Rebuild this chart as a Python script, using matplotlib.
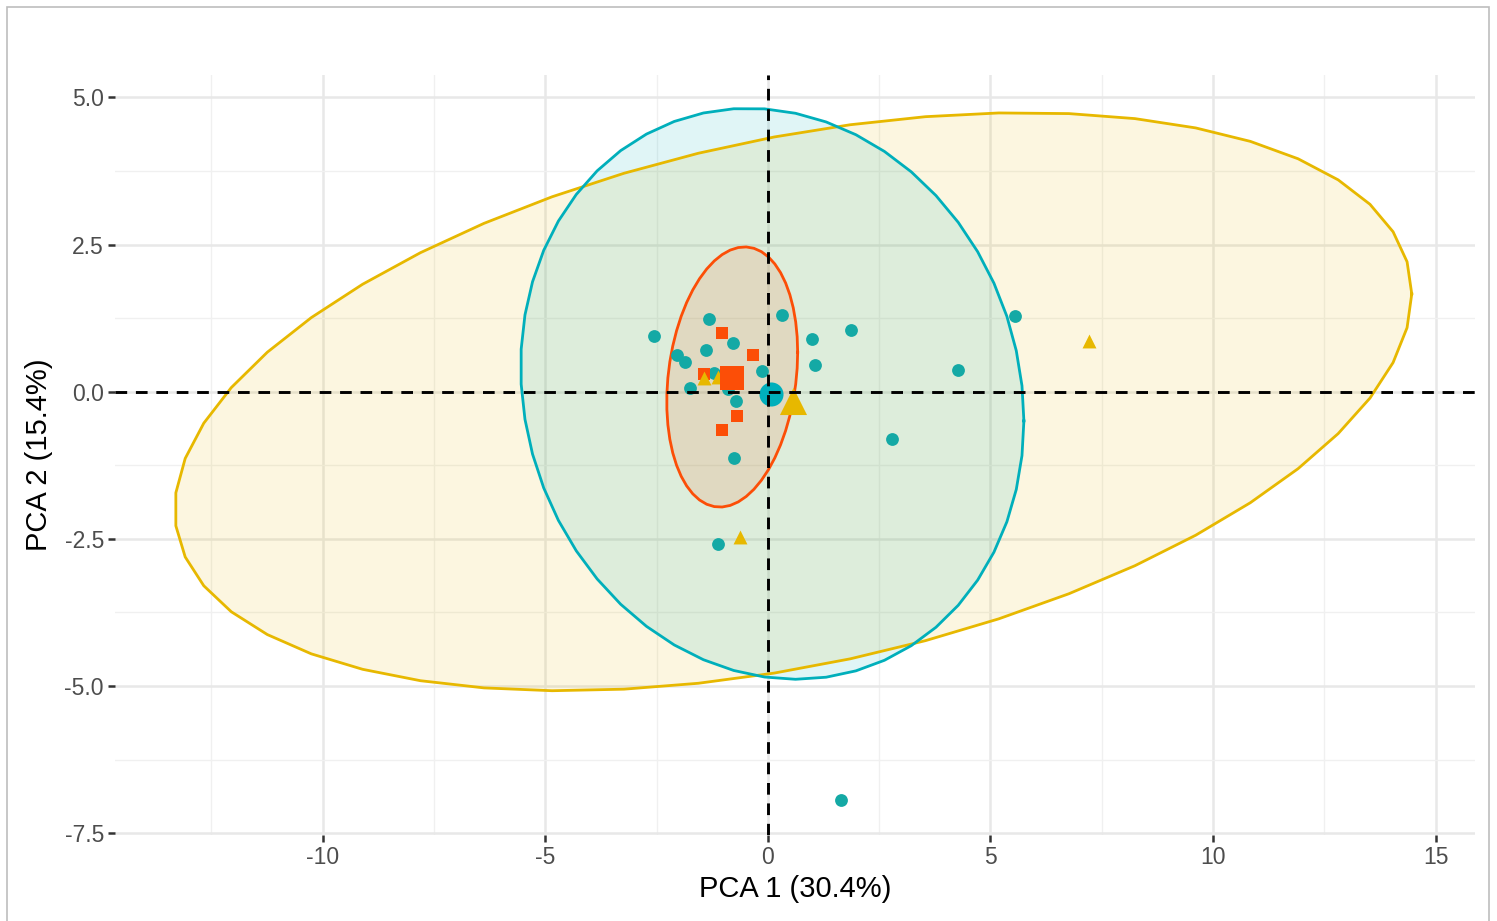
import numpy as np
import matplotlib
matplotlib.use("Agg")
import matplotlib.pyplot as plt
from matplotlib.patches import Rectangle

plt.rcParams['font.family'] = ['Liberation Sans', 'DejaVu Sans']

# ---- data ----
# group colours (factoextra palette)
col_teal = '#00AFBB'
col_teal_pt = '#14A9A5'
col_orange = '#FC4E07'
col_yellow = '#E7B800'

teal_x = [-2.56, -1.32, 0.31, 0.99, 1.07, -0.78, -1.39, -2.03, -1.86, -1.21, -0.13,
          -1.74, -0.89, -0.72, -0.76, -1.12, 1.86, 2.78, 4.27, 5.55, 1.64]
teal_y = [0.95, 1.23, 1.30, 0.89, 0.45, 0.83, 0.71, 0.62, 0.51, 0.31, 0.36,
          0.06, 0.05, -0.15, -1.13, -2.58, 1.05, -0.81, 0.37, 1.29, -6.94]

orange_x = [-1.02, -0.33, -1.44, -0.69, -1.02]
orange_y = [1.00, 0.63, 0.30, -0.42, -0.65]

yellow_x = [7.22, -0.63, -1.44, -1.12]
yellow_y = [0.86, -2.47, 0.24, 0.25]

# group centroids (teal, orange, yellow)
cent_x = [0.08, -0.80, 0.57]
cent_y = [-0.04, 0.24, -0.15]

# confidence ellipses: centre, half ranges, correlation (teal, orange, yellow)
ell_cx = [0.10, -0.80, 0.57]
ell_cy = [-0.035, 0.25, -0.17]
ell_sx = [5.65, 1.47, 13.89]
ell_sy = [4.85, 2.21, 4.91]
ell_rho = [-0.095, 0.19, 0.373]

xticks = [-10, -5, 0, 5, 10, 15]
yticks = [5.0, 2.5, 0.0, -2.5, -5.0, -7.5]

# ---- figure ----
W, H = 1497, 921
fig = plt.figure(figsize=(W / 100, H / 100), dpi=100)
ax = fig.add_axes([115 / W, (H - 835) / H, (1475 - 115) / W, (835 - 75) / H])

# light frame round the whole picture
fig.patches.append(Rectangle((7 / W, -0.01), (1489 - 7) / W, (H - 7) / H + 0.01,
                             transform=fig.transFigure, fill=False,
                             edgecolor='#BDBDBD', lw=1.2, zorder=0))

ax.set_xlim(-14.66, 15.88)
ax.set_ylim(-7.53, 5.38)
for s in ax.spines.values():
    s.set_visible(False)

# grid, theme_minimal style
ax.set_xticks(xticks)
ax.set_yticks(yticks)
ax.set_xticks([-12.5, -7.5, -2.5, 2.5, 7.5, 12.5], minor=True)
ax.set_yticks([3.75, 1.25, -1.25, -3.75, -6.25], minor=True)
ax.grid(which='major', color='#E8E8E8', lw=1.8, zorder=0)
ax.grid(which='minor', color='#F0F0F0', lw=1.0, zorder=0)
ax.set_axisbelow(True)
ax.tick_params(which='minor', length=0)
ax.tick_params(which='major', length=5, width=1.8, color='#333333',
               labelsize=16.5, labelcolor='#4D4D4D', pad=3)
ax.set_xticklabels([str(v) for v in xticks])
ax.set_yticklabels([f'{v:.1f}' for v in yticks])

# ellipses (drawn as a 51-segment polygon like stat_ellipse)
cols = [col_teal, col_orange, col_yellow]
t = np.linspace(0, 2 * np.pi, 52)
for i in [2, 0, 1]:
    ex = ell_cx[i] + ell_sx[i] * np.cos(t)
    ey = ell_cy[i] + ell_sy[i] * (ell_rho[i] * np.cos(t) + np.sqrt(1 - ell_rho[i] ** 2) * np.sin(t))
    ax.fill(ex, ey, color=cols[i], alpha=0.12, lw=0, zorder=1)
    ax.plot(ex, ey, color=cols[i], lw=2.0, zorder=2)

# individuals
ax.scatter(teal_x, teal_y, s=85, marker='o', color=col_teal_pt, lw=0, zorder=3)
ax.scatter(orange_x, orange_y, s=75, marker='s', color=col_orange, lw=0, zorder=3)
ax.scatter(yellow_x, yellow_y, s=100, marker='^', color=col_yellow, lw=0, zorder=3)

# centroids
ax.scatter(cent_x[0], cent_y[0], s=300, marker='o', color=col_teal, lw=0, zorder=4)
ax.scatter(cent_x[1], cent_y[1], s=300, marker='s', color=col_orange, lw=0, zorder=4)
ax.scatter(cent_x[2], cent_y[2], s=380, marker='^', color=col_yellow, lw=0, zorder=4)

# axes through the origin
ax.axhline(0, color='black', ls=(0, (4, 3)), lw=2.1, zorder=5)
ax.axvline(0, color='black', ls=(0, (4, 3)), lw=2.1, zorder=5)

ax.set_xlabel('PCA 1 (30.4%)', fontsize=21, color='black', labelpad=4)
ax.set_ylabel('PCA 2 (15.4%)', fontsize=21, color='black', labelpad=8)

fig.savefig('out.png', dpi=100)
